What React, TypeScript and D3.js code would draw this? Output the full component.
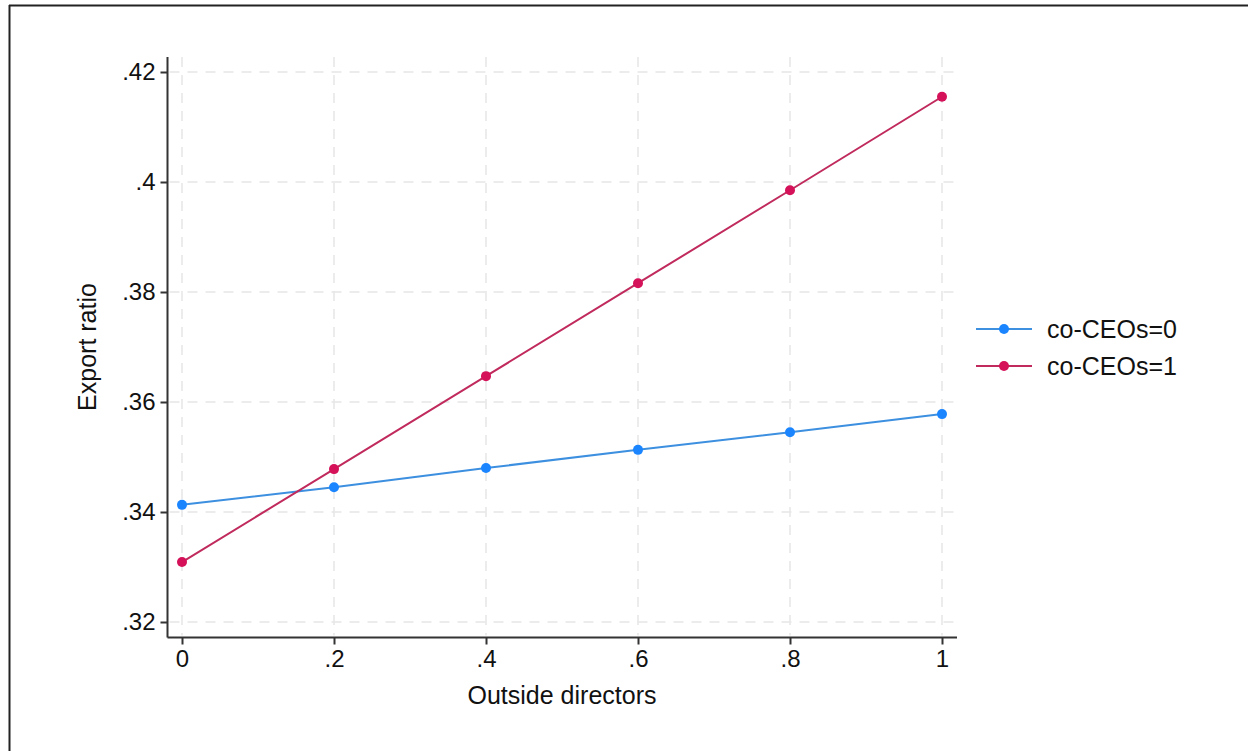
import { useEffect, useRef } from 'react';
import * as d3 from 'd3';

const xValues = [0, 0.2, 0.4, 0.6, 0.8, 1];
const coCeo0 = [0.3413, 0.3445, 0.348, 0.3513, 0.3545, 0.3578];
const coCeo1 = [0.3309, 0.3478, 0.3647, 0.3816, 0.3985, 0.4155];
const yTicks = [0.32, 0.34, 0.36, 0.38, 0.4, 0.42];
const xTicks = [0, 0.2, 0.4, 0.6, 0.8, 1];
const seriesNames = ['co-CEOs=0', 'co-CEOs=1'];

const fmt = (d: number) => (d === 0 || d === 1 ? String(d) : String(d).replace(/^0/, ''));

function App() {
  const svgRef = useRef<SVGSVGElement>(null);

  useEffect(() => {
    const w = 1248;
    const h = 751;
    const svg = d3.select(svgRef.current).attr('width', w).attr('height', h);
    svg.selectAll('*').remove();
    const font = 'Liberation Sans, Arial, sans-serif';

    // outer frame (top and left edges visible)
    svg.append('line').attr('x1', 9).attr('x2', w).attr('y1', 5.5).attr('y2', 5.5)
      .attr('stroke', '#222').attr('stroke-width', 2);
    svg.append('line').attr('x1', 9.5).attr('x2', 9.5).attr('y1', 5).attr('y2', h)
      .attr('stroke', '#222').attr('stroke-width', 2);

    const xScale = d3.scaleLinear().domain([0, 1]).range([182, 942]);
    const yScale = d3.scaleLinear().domain([0.32, 0.42]).range([622, 72]);
    const left = 167.5, right = 957, top = 57, bottom = 637.5;

    // grid
    const grid = svg.append('g').attr('stroke', '#e6e6e6').attr('stroke-width', 1.5)
      .attr('stroke-dasharray', '10,8');
    grid.selectAll('.hg').data(yTicks).enter().append('line')
      .attr('x1', left + 2).attr('x2', right)
      .attr('y1', d => yScale(d)).attr('y2', d => yScale(d));
    grid.selectAll('.vg').data(xTicks).enter().append('line')
      .attr('y1', top).attr('y2', bottom - 2)
      .attr('x1', d => xScale(d)).attr('x2', d => xScale(d));

    // axes
    const yAxis = svg.append('g').attr('transform', `translate(${left},0)`)
      .call(d3.axisLeft(yScale).tickValues(yTicks).tickFormat(d => fmt(d as number)).tickSize(7).tickPadding(5));
    yAxis.select('.domain').attr('d', `M0,${top}V${bottom}`);
    const xAxis = svg.append('g').attr('transform', `translate(0,${bottom})`)
      .call(d3.axisBottom(xScale).tickValues(xTicks).tickFormat(d => fmt(d as number)).tickSize(7).tickPadding(5));
    xAxis.select('.domain').attr('d', `M${left},0H${right}`);
    [yAxis, xAxis].forEach(a => {
      a.attr('font-size', 24).attr('font-family', font);
      a.selectAll('path, line').attr('stroke', '#333').attr('stroke-width', 2);
      a.selectAll('text').attr('fill', '#111');
    });

    svg.append('text').attr('transform', 'translate(96,347) rotate(-90)')
      .attr('text-anchor', 'middle').attr('font-size', 25).attr('font-family', font).attr('fill', '#111')
      .text('Export ratio');
    svg.append('text').attr('x', 562).attr('y', 704)
      .attr('text-anchor', 'middle').attr('font-size', 25).attr('font-family', font).attr('fill', '#111')
      .text('Outside directors');

    const series = [
      { name: seriesNames[0], values: coCeo0, line: '#3d8fe0', dot: '#1a85ff' },
      { name: seriesNames[1], values: coCeo1, line: '#c02a5c', dot: '#d41159' },
    ];
    const lineGen = d3.line<number>().x((_, i) => xScale(xValues[i])).y(d => yScale(d));

    series.forEach(s => {
      svg.append('path').datum(s.values).attr('d', lineGen)
        .attr('fill', 'none').attr('stroke', s.line).attr('stroke-width', 2);
      svg.selectAll(null).data(s.values).enter().append('circle')
        .attr('cx', (_, i) => xScale(xValues[i])).attr('cy', d => yScale(d))
        .attr('r', 5).attr('fill', s.dot);
    });

    // legend
    const legend = svg.append('g');
    series.forEach((s, i) => {
      const y = 329 + i * 37;
      legend.append('line').attr('x1', 976).attr('x2', 1032).attr('y1', y).attr('y2', y)
        .attr('stroke', s.line).attr('stroke-width', 2);
      legend.append('circle').attr('cx', 1004).attr('cy', y).attr('r', 5).attr('fill', s.dot);
      legend.append('text').attr('x', 1047).attr('y', y + 9).attr('font-size', 25)
        .attr('font-family', font).attr('fill', '#111').text(s.name);
    });
  }, []);

  return (
    <div style={{ position: 'fixed', left: 0, top: 0, background: '#fff' }}>
      <svg ref={svgRef}></svg>
    </div>
  );
}

export default App;
